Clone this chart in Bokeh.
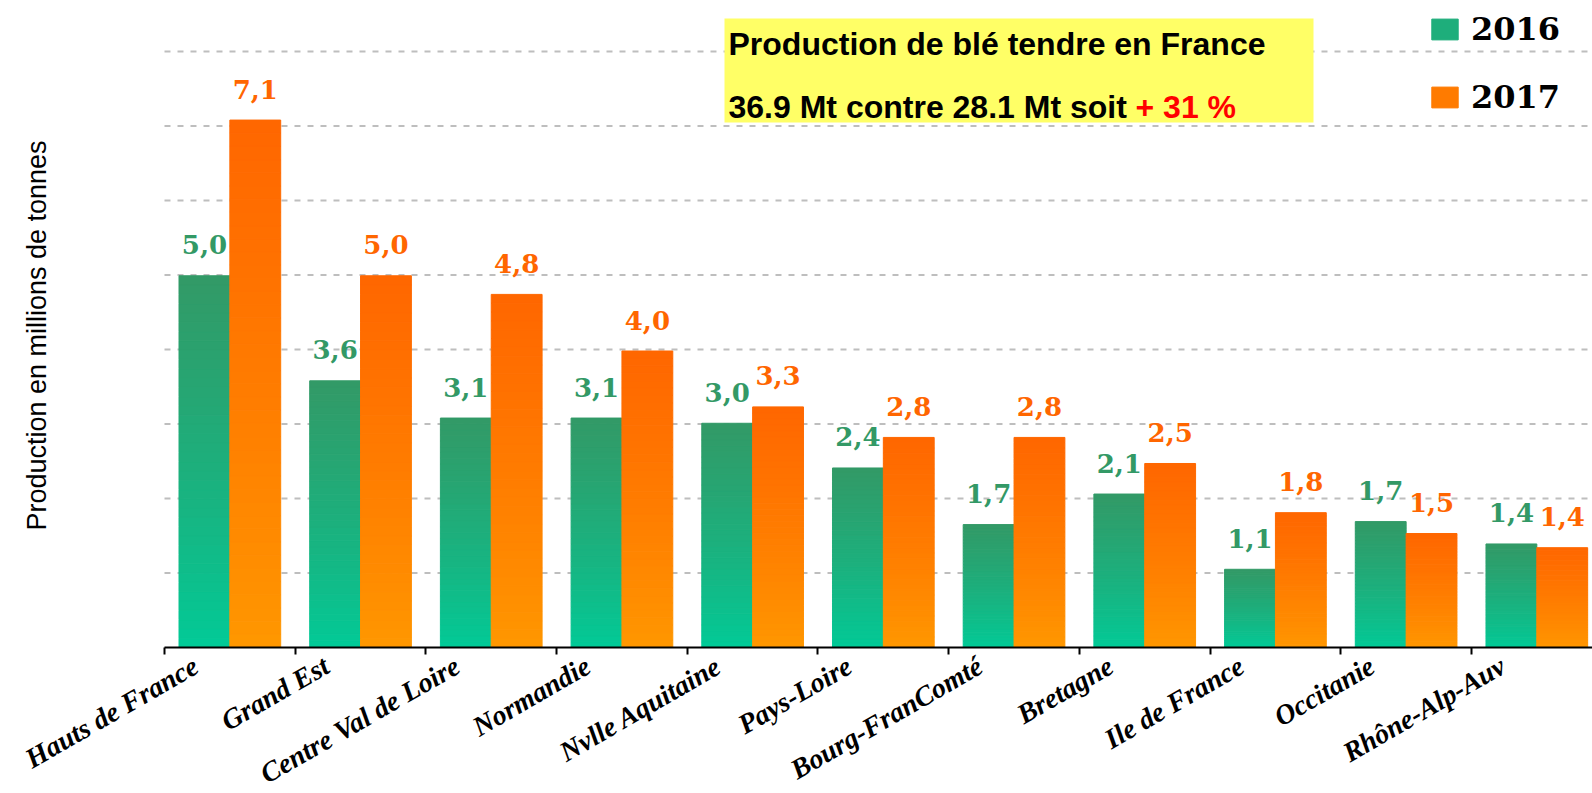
import math
from bokeh.plotting import figure
from bokeh.models import (Range1d, FixedTicker, ColumnDataSource, Label,
                          BoxAnnotation, Legend, LegendItem)
from bokeh.core.properties import value
from bokeh.embed import file_html
from bokeh.resources import INLINE

# ---------------- data ----------------
regions = ["Hauts de France", "Grand Est", "Centre Val de Loire", "Normandie",
           "Nvlle Aquitaine", "Pays-Loire", "Bourg-FranComté", "Bretagne",
           "Ile de France", "Occitanie", "Rhône-Alp-Auv"]
prod_2016 = [4.99, 3.58, 3.08, 3.08, 3.01, 2.41, 1.65, 2.06, 1.05, 1.69, 1.39]
prod_2017 = [7.08, 4.99, 4.74, 3.98, 3.23, 2.82, 2.82, 2.47, 1.81, 1.53, 1.34]
labels_2016 = ["5,0", "3,6", "3,1", "3,1", "3,0", "2,4", "1,7", "2,1", "1,1", "1,7", "1,4"]
labels_2017 = ["7,1", "5,0", "4,8", "4,0", "3,3", "2,8", "2,8", "2,5", "1,8", "1,5", "1,4"]
series_names = ["2016", "2017"]
grid_values = [1, 2, 3, 4, 5, 6, 7, 8]
title_line1 = "Production de blé tendre en France"
title_line2 = "36.9 Mt contre 28.1 Mt soit"
title_delta = "+ 31 %"
y_title = "Production en millions de tonnes"

# ---------------- style ----------------
GREEN_TOP, GREEN_BOT = (51, 153, 102), (0, 204, 153)
ORANGE_TOP, ORANGE_BOT = (255, 102, 0), (255, 153, 0)
N = 40
BAR_W = 0.389
LABEL_SHIFT = 0.26   # category label anchor shift (style)
X_START, X_END = -1.2548, 10.926
Y_START, Y_END = -1.9597, 8.685


def ramp(bottom, top, n):
    out = []
    for k in range(n):
        t = ((k + 0.5) / n) ** 0.8
        c = tuple(int(round(b + (tp - b) * t)) for b, tp in zip(bottom, top))
        out.append("#%02x%02x%02x" % c)
    return out


def slices(vals, offset, colors):
    d = dict(x=[], bottom=[], top=[], color=[])
    for i, v in enumerate(vals):
        for k in range(N):
            d["x"].append(i + 0.5 + offset)
            d["bottom"].append(v * k / N)
            d["top"].append(v * (k + 1) / N)
            d["color"].append(colors[k])
    return ColumnDataSource(d)


p = figure(width=1592, height=793, x_range=Range1d(X_START, X_END),
           y_range=Range1d(Y_START, Y_END),
           output_backend="svg", toolbar_location=None,
           min_border_left=0, min_border_right=0, min_border_top=0, min_border_bottom=0)
p.outline_line_color = None
p.background_fill_color = "white"
p.border_fill_color = "white"
p.xgrid.visible = False
p.ygrid.visible = False
p.yaxis.visible = False

# horizontal dashed grid lines, starting at the category axis origin
p.segment(x0=[0] * len(grid_values), x1=[X_END] * len(grid_values),
          y0=grid_values, y1=grid_values, line_color="#bebebe", line_width=2,
          line_dash="6 7")

# x axis: boundary ticks (minor) + rotated category labels (major, tick hidden)
centers = [i + 0.5 for i in range(len(regions))]
label_pos = [c - LABEL_SHIFT for c in centers]
boundaries = list(range(len(regions)))
p.xaxis.fixed_location = 0
p.xaxis.bounds = (0, X_END)
p.xaxis.ticker = FixedTicker(ticks=label_pos, minor_ticks=boundaries)
p.xaxis.major_label_overrides = {lp: name for lp, name in zip(label_pos, regions)}
p.xaxis.axis_line_color = "black"
p.xaxis.axis_line_width = 2
p.xaxis.major_tick_line_color = None
p.xaxis.major_tick_out = 0
p.xaxis.major_tick_in = 0
p.xaxis.minor_tick_line_color = "black"
p.xaxis.minor_tick_line_width = 2
p.xaxis.minor_tick_in = 0
p.xaxis.minor_tick_out = 7
p.xaxis.major_label_orientation = math.pi / 6
p.xaxis.major_label_standoff = 9
p.xaxis.major_label_text_font = "Liberation Serif"
p.xaxis.major_label_text_font_style = "bold italic"
p.xaxis.major_label_text_font_size = "28px"
p.xaxis.major_label_text_color = "black"

# bars
g_src = slices(prod_2016, -BAR_W / 2, ramp(GREEN_BOT, GREEN_TOP, N))
o_src = slices(prod_2017, BAR_W / 2, ramp(ORANGE_BOT, ORANGE_TOP, N))
r16 = p.vbar(x="x", bottom="bottom", top="top", width=BAR_W, fill_color="color",
             line_color="color", line_width=1, source=g_src)
r17 = p.vbar(x="x", bottom="bottom", top="top", width=BAR_W, fill_color="color",
             line_color="color", line_width=1, source=o_src)

# value labels
p.text(x=[c - BAR_W / 2 for c in centers], y=prod_2016, text=labels_2016,
       text_font=value("DejaVu Serif"), text_font_style="bold", text_font_size="26px",
       text_color="#339966", text_align="center", text_baseline="alphabetic", y_offset=-31)
p.text(x=[c + BAR_W / 2 for c in centers], y=prod_2017, text=labels_2017,
       text_font=value("DejaVu Serif"), text_font_style="bold", text_font_size="26px",
       text_color="#ff6600", text_align="center", text_baseline="alphabetic", y_offset=-31)

# y title
p.add_layout(Label(x=36, y=458, x_units="screen", y_units="screen", text=y_title,
                   angle=math.pi / 2, text_align="center", text_baseline="middle",
                   text_font="Liberation Sans", text_font_size="27px", text_color="black"))

# title box
p.add_layout(BoxAnnotation(left=724, right=1313, top=775, bottom=671,
                           left_units="screen", right_units="screen",
                           top_units="screen", bottom_units="screen",
                           fill_color="#ffff66", fill_alpha=1, line_color=None))
for txt, xx, yy, col in [(title_line1, 728, 750, "black"), (title_line2, 728, 687, "black"),
                         (title_delta, 1135, 687, "#ff0000")]:
    p.add_layout(Label(x=xx, y=yy, x_units="screen", y_units="screen", text=txt,
                       text_font="Liberation Sans", text_font_style="bold",
                       text_font_size="32px", text_color=col, text_baseline="alphabetic"))

# legend
legend = Legend(items=[LegendItem(label=series_names[0], renderers=[r16], index=N // 2),
                       LegendItem(label=series_names[1], renderers=[r17], index=N // 2)],
                location=(1428, 677), orientation="vertical",
                glyph_width=33, glyph_height=26, label_standoff=10, label_height=36,
                spacing=30, padding=0, margin=0, border_line_color=None,
                background_fill_alpha=0,
                label_text_font="DejaVu Serif", label_text_font_style="bold",
                label_text_font_size="32px", label_text_color="black")
p.add_layout(legend, "center")

open("out.html", "w").write(file_html(p, INLINE))
